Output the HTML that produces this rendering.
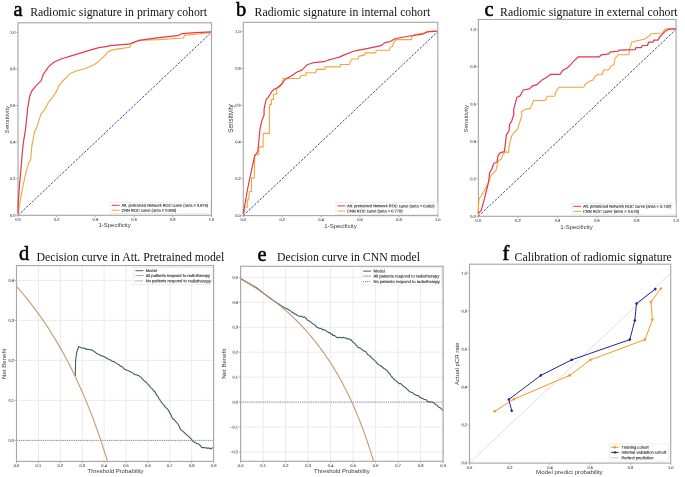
<!DOCTYPE html>
<html><head><meta charset="utf-8"><style>
html,body{margin:0;padding:0;background:#fff;width:685px;height:477px;overflow:hidden}
svg{display:block;will-change:transform}
</style></head><body>
<svg width="685" height="477" viewBox="0 0 685 477">
<rect width="685" height="477" fill="#fff"/>
<text x="13.5" y="15.7" font-family="Liberation Serif" font-size="20.4" fill="#000" text-anchor="start" font-weight="normal" stroke="#000" stroke-width="0.55">a</text>
<text x="30.2" y="16.3" font-family="Liberation Serif" font-size="11.75" fill="#111" text-anchor="start" font-weight="normal" >Radiomic signature in primary cohort</text>
<line x1="18" y1="215.3" x2="18" y2="217.1" stroke="#777" stroke-width="0.6"/>
<line x1="16.2" y1="215.3" x2="18" y2="215.3" stroke="#777" stroke-width="0.6"/>
<text x="18" y="220.8" font-family="Liberation Sans" font-size="4.0" fill="#555555" text-anchor="middle" font-weight="normal"  transform="rotate(0.1 18 220.8)" stroke="#555555" stroke-width="0.12">0.0</text>
<text x="15.5" y="216.7" font-family="Liberation Sans" font-size="4.0" fill="#555555" text-anchor="end" font-weight="normal"  transform="rotate(0.1 15.5 216.7)" stroke="#555555" stroke-width="0.12">0.0</text>
<line x1="56.7" y1="215.3" x2="56.7" y2="217.1" stroke="#777" stroke-width="0.6"/>
<line x1="16.2" y1="178.7" x2="18" y2="178.7" stroke="#777" stroke-width="0.6"/>
<text x="56.7" y="220.8" font-family="Liberation Sans" font-size="4.0" fill="#555555" text-anchor="middle" font-weight="normal"  transform="rotate(0.1 56.7 220.8)" stroke="#555555" stroke-width="0.12">0.2</text>
<text x="15.5" y="180.1" font-family="Liberation Sans" font-size="4.0" fill="#555555" text-anchor="end" font-weight="normal"  transform="rotate(0.1 15.5 180.1)" stroke="#555555" stroke-width="0.12">0.2</text>
<line x1="95.4" y1="215.3" x2="95.4" y2="217.1" stroke="#777" stroke-width="0.6"/>
<line x1="16.2" y1="142.1" x2="18" y2="142.1" stroke="#777" stroke-width="0.6"/>
<text x="95.4" y="220.8" font-family="Liberation Sans" font-size="4.0" fill="#555555" text-anchor="middle" font-weight="normal"  transform="rotate(0.1 95.4 220.8)" stroke="#555555" stroke-width="0.12">0.4</text>
<text x="15.5" y="143.5" font-family="Liberation Sans" font-size="4.0" fill="#555555" text-anchor="end" font-weight="normal"  transform="rotate(0.1 15.5 143.5)" stroke="#555555" stroke-width="0.12">0.4</text>
<line x1="134.1" y1="215.3" x2="134.1" y2="217.1" stroke="#777" stroke-width="0.6"/>
<line x1="16.2" y1="105.5" x2="18" y2="105.5" stroke="#777" stroke-width="0.6"/>
<text x="134.1" y="220.8" font-family="Liberation Sans" font-size="4.0" fill="#555555" text-anchor="middle" font-weight="normal"  transform="rotate(0.1 134.1 220.8)" stroke="#555555" stroke-width="0.12">0.6</text>
<text x="15.5" y="106.8" font-family="Liberation Sans" font-size="4.0" fill="#555555" text-anchor="end" font-weight="normal"  transform="rotate(0.1 15.5 106.8)" stroke="#555555" stroke-width="0.12">0.6</text>
<line x1="172.8" y1="215.3" x2="172.8" y2="217.1" stroke="#777" stroke-width="0.6"/>
<line x1="16.2" y1="68.9" x2="18" y2="68.9" stroke="#777" stroke-width="0.6"/>
<text x="172.8" y="220.8" font-family="Liberation Sans" font-size="4.0" fill="#555555" text-anchor="middle" font-weight="normal"  transform="rotate(0.1 172.8 220.8)" stroke="#555555" stroke-width="0.12">0.8</text>
<text x="15.5" y="70.2" font-family="Liberation Sans" font-size="4.0" fill="#555555" text-anchor="end" font-weight="normal"  transform="rotate(0.1 15.5 70.2)" stroke="#555555" stroke-width="0.12">0.8</text>
<line x1="211.5" y1="215.3" x2="211.5" y2="217.1" stroke="#777" stroke-width="0.6"/>
<line x1="16.2" y1="32.3" x2="18" y2="32.3" stroke="#777" stroke-width="0.6"/>
<text x="211.5" y="220.8" font-family="Liberation Sans" font-size="4.0" fill="#555555" text-anchor="middle" font-weight="normal"  transform="rotate(0.1 211.5 220.8)" stroke="#555555" stroke-width="0.12">1.0</text>
<text x="15.5" y="33.7" font-family="Liberation Sans" font-size="4.0" fill="#555555" text-anchor="end" font-weight="normal"  transform="rotate(0.1 15.5 33.7)" stroke="#555555" stroke-width="0.12">1.0</text>
<text x="114.6" y="226.7" font-family="Liberation Sans" font-size="6.0" fill="#3a3a3a" text-anchor="middle" font-weight="normal" >1-Specificity</text>
<text x="8.6" y="119.6" font-family="Liberation Sans" font-size="6.15" fill="#3a3a3a" text-anchor="middle" font-weight="normal" transform="rotate(-90 8.6 119.6)">Sensitivity</text>
<line x1="18" y1="215.3" x2="211.5" y2="32.3" stroke="#42429e" stroke-width="1.0" stroke-dasharray="2.4 1.4"/>
<rect x="18" y="22.8" width="193.5" height="192.5" fill="none" stroke="#a8a8a8" stroke-width="1.15"/>
<polyline points="18.1,213.5 19.2,207.2 21.3,194.7 23.4,184.2 25.9,172.7 28.6,163.2 30.7,160 31.8,146.4 33,140 34.4,132.3 36.5,128.1 39.3,119.7 40.7,114.5 44.9,109.2 48.1,102.9 52.3,97.7 56.5,91.4 58.6,86.2 61.7,82 64.9,78.8 70.1,73.6 76.4,71 83.7,69 89,66.9 94.2,64.8 100.5,59.9 105.8,54.7 107.9,51.5 115,49.4 129.9,47.2 130.7,44.2 139.9,40.3 159,39.6 183.6,38 184.3,35.4 195.8,34.2 211.2,32.4" fill="none" stroke="#f2a53c" stroke-width="1.1" stroke-linejoin="round"/>
<polyline points="18.1,213.5 18.1,205.1 19.2,188.4 20.9,169.5 22.3,152.7 23.4,142.3 25.5,129.7 27.6,108.9 29.7,96.3 31.8,91 36,85.8 41.2,80.6 43.3,74.3 48.5,66.9 53.8,62.3 61.1,59 69.5,56.4 77.9,53.9 88.4,50.6 98.9,47.6 107.2,46.4 110,45.7 128.4,44.2 139.1,40.3 159,37.6 177.4,35.7 182,33.7 195.8,32.7 211.2,31.9" fill="none" stroke="#e2394b" stroke-width="1.2" stroke-linejoin="round"/>
<rect x="110.2" y="202.2" width="100.3" height="11.1" fill="#fff" fill-opacity="0.85" stroke="#e0e0e0" stroke-width="0.5"/>
<line x1="111.7" y1="205.3" x2="119.7" y2="205.3" stroke="#e2394b" stroke-width="1"/>
<line x1="111.7" y1="210.3" x2="119.7" y2="210.3" stroke="#f2a53c" stroke-width="1"/>
<text x="121.4" y="206.7" font-family="Liberation Sans" font-size="3.95" fill="#2e2e2e" text-anchor="start" font-weight="normal"  transform="rotate(0.1 121.4 206.7)" stroke="#2e2e2e" stroke-width="0.12">Att. pretrained Network ROC curve (area = 0.876)</text>
<text x="121.4" y="211.7" font-family="Liberation Sans" font-size="3.95" fill="#2e2e2e" text-anchor="start" font-weight="normal"  transform="rotate(0.1 121.4 211.7)" stroke="#2e2e2e" stroke-width="0.12">CNN ROC curve (area = 0.805)</text>
<text x="236" y="15.7" font-family="Liberation Serif" font-size="20.4" fill="#000" text-anchor="start" font-weight="normal" stroke="#000" stroke-width="0.55">b</text>
<text x="254.6" y="16.3" font-family="Liberation Serif" font-size="11.75" fill="#111" text-anchor="start" font-weight="normal" >Radiomic signature in internal cohort</text>
<line x1="243.3" y1="215.6" x2="243.3" y2="217.4" stroke="#777" stroke-width="0.6"/>
<line x1="241.5" y1="215.6" x2="243.3" y2="215.6" stroke="#777" stroke-width="0.6"/>
<text x="243.3" y="221.1" font-family="Liberation Sans" font-size="4.0" fill="#555555" text-anchor="middle" font-weight="normal"  transform="rotate(0.1 243.3 221.1)" stroke="#555555" stroke-width="0.12">0.0</text>
<text x="240.8" y="216.9" font-family="Liberation Sans" font-size="4.0" fill="#555555" text-anchor="end" font-weight="normal"  transform="rotate(0.1 240.8 216.9)" stroke="#555555" stroke-width="0.12">0.0</text>
<line x1="282.2" y1="215.6" x2="282.2" y2="217.4" stroke="#777" stroke-width="0.6"/>
<line x1="241.5" y1="178.8" x2="243.3" y2="178.8" stroke="#777" stroke-width="0.6"/>
<text x="282.2" y="221.1" font-family="Liberation Sans" font-size="4.0" fill="#555555" text-anchor="middle" font-weight="normal"  transform="rotate(0.1 282.2 221.1)" stroke="#555555" stroke-width="0.12">0.2</text>
<text x="240.8" y="180.1" font-family="Liberation Sans" font-size="4.0" fill="#555555" text-anchor="end" font-weight="normal"  transform="rotate(0.1 240.8 180.1)" stroke="#555555" stroke-width="0.12">0.2</text>
<line x1="321.1" y1="215.6" x2="321.1" y2="217.4" stroke="#777" stroke-width="0.6"/>
<line x1="241.5" y1="142" x2="243.3" y2="142" stroke="#777" stroke-width="0.6"/>
<text x="321.1" y="221.1" font-family="Liberation Sans" font-size="4.0" fill="#555555" text-anchor="middle" font-weight="normal"  transform="rotate(0.1 321.1 221.1)" stroke="#555555" stroke-width="0.12">0.4</text>
<text x="240.8" y="143.3" font-family="Liberation Sans" font-size="4.0" fill="#555555" text-anchor="end" font-weight="normal"  transform="rotate(0.1 240.8 143.3)" stroke="#555555" stroke-width="0.12">0.4</text>
<line x1="360" y1="215.6" x2="360" y2="217.4" stroke="#777" stroke-width="0.6"/>
<line x1="241.5" y1="105.2" x2="243.3" y2="105.2" stroke="#777" stroke-width="0.6"/>
<text x="360" y="221.1" font-family="Liberation Sans" font-size="4.0" fill="#555555" text-anchor="middle" font-weight="normal"  transform="rotate(0.1 360 221.1)" stroke="#555555" stroke-width="0.12">0.6</text>
<text x="240.8" y="106.5" font-family="Liberation Sans" font-size="4.0" fill="#555555" text-anchor="end" font-weight="normal"  transform="rotate(0.1 240.8 106.5)" stroke="#555555" stroke-width="0.12">0.6</text>
<line x1="398.9" y1="215.6" x2="398.9" y2="217.4" stroke="#777" stroke-width="0.6"/>
<line x1="241.5" y1="68.4" x2="243.3" y2="68.4" stroke="#777" stroke-width="0.6"/>
<text x="398.9" y="221.1" font-family="Liberation Sans" font-size="4.0" fill="#555555" text-anchor="middle" font-weight="normal"  transform="rotate(0.1 398.9 221.1)" stroke="#555555" stroke-width="0.12">0.8</text>
<text x="240.8" y="69.7" font-family="Liberation Sans" font-size="4.0" fill="#555555" text-anchor="end" font-weight="normal"  transform="rotate(0.1 240.8 69.7)" stroke="#555555" stroke-width="0.12">0.8</text>
<line x1="437.8" y1="215.6" x2="437.8" y2="217.4" stroke="#777" stroke-width="0.6"/>
<line x1="241.5" y1="31.6" x2="243.3" y2="31.6" stroke="#777" stroke-width="0.6"/>
<text x="437.8" y="221.1" font-family="Liberation Sans" font-size="4.0" fill="#555555" text-anchor="middle" font-weight="normal"  transform="rotate(0.1 437.8 221.1)" stroke="#555555" stroke-width="0.12">1.0</text>
<text x="240.8" y="32.9" font-family="Liberation Sans" font-size="4.0" fill="#555555" text-anchor="end" font-weight="normal"  transform="rotate(0.1 240.8 32.9)" stroke="#555555" stroke-width="0.12">1.0</text>
<text x="340.5" y="227.6" font-family="Liberation Sans" font-size="6.0" fill="#3a3a3a" text-anchor="middle" font-weight="normal" >1-Specificity</text>
<text x="233.2" y="118.6" font-family="Liberation Sans" font-size="6.3" fill="#3a3a3a" text-anchor="middle" font-weight="normal" transform="rotate(-90 233.2 118.6)">Sensitivity</text>
<line x1="243.3" y1="215.6" x2="437.8" y2="31.6" stroke="#42429e" stroke-width="1.0" stroke-dasharray="2.4 1.4"/>
<rect x="243.3" y="22.3" width="194.5" height="193.3" fill="none" stroke="#a8a8a8" stroke-width="1.15"/>
<polyline points="244.2,213.5 244.6,207.2 247.3,207.2 247.3,199.9 248.8,199.9 249.4,191.5 251.5,191.5 251.5,177.9 254.3,177.9 254.7,154.8 258.9,154.8 258.9,146.9 263.1,146.9 263.1,133.4 269.4,133.4 269.4,104.7 271.4,104.7 271.4,99.4 273.5,99.4 273.5,94.2 276.7,94.2 276.7,88.9 279.8,86.8 283,82.7 283,78.5 299.7,78.5 300.8,75.3 306,75.3 306,72.8 315.5,72.8 316.5,69.4 324.9,69.4 324.9,66.9 340.4,66.9 340.4,64.5 349.6,64.5 350.3,61.5 351.9,59 358,59 358.8,56.4 364.9,54.9 364.9,52.9 375.6,52.9 376.4,50.3 389.4,50.3 390.2,47.2 392.5,46.5 393.2,43.1 396.3,39.6 411.6,39.6 411.6,37 415.5,34.2 423.9,33.4 427,31.4 436.9,31.1" fill="none" stroke="#f2a53c" stroke-width="1.1" stroke-linejoin="round"/>
<polyline points="243.1,213.5 245.2,203 247.3,190.5 249.4,180 252.6,165.3 254.7,155.9 257.8,151.7 259.9,129.7 262,120.2 264.1,115 264.1,108.9 266.2,99.4 268.3,97.3 271.4,92.1 273.5,89.6 277.7,87.5 281.9,83.7 285.1,79.5 292.4,75.3 296.6,72.2 301.8,70.1 307.1,64.8 313.4,62.7 323.9,61.7 328,60.2 334.3,58.5 340,56.9 344.2,54.9 354.9,50.8 365.7,48.8 381,45.7 384.8,42.6 390.2,41.6 395.5,38.5 410.1,36 422.4,34.2 427.7,31.9 436.9,31.1" fill="none" stroke="#e2394b" stroke-width="1.2" stroke-linejoin="round"/>
<rect x="335.9" y="202.6" width="101.5" height="11.7" fill="#fff" fill-opacity="0.85" stroke="#e0e0e0" stroke-width="0.5"/>
<line x1="337.4" y1="205.9" x2="345.4" y2="205.9" stroke="#e2394b" stroke-width="1"/>
<line x1="337.4" y1="211.1" x2="345.4" y2="211.1" stroke="#f2a53c" stroke-width="1"/>
<text x="347.1" y="207.3" font-family="Liberation Sans" font-size="3.98" fill="#2e2e2e" text-anchor="start" font-weight="normal"  transform="rotate(0.1 347.1 207.3)" stroke="#2e2e2e" stroke-width="0.12">Att. pretrained Network ROC curve (area = 0.862)</text>
<text x="347.1" y="212.5" font-family="Liberation Sans" font-size="3.98" fill="#2e2e2e" text-anchor="start" font-weight="normal"  transform="rotate(0.1 347.1 212.5)" stroke="#2e2e2e" stroke-width="0.12">CNN ROC curve (area = 0.770)</text>
<text x="484.6" y="15.7" font-family="Liberation Serif" font-size="20.4" fill="#000" text-anchor="start" font-weight="normal" stroke="#000" stroke-width="0.55">c</text>
<text x="500.1" y="16.3" font-family="Liberation Serif" font-size="11.75" fill="#111" text-anchor="start" font-weight="normal" >Radiomic signature in external cohort</text>
<line x1="478.4" y1="216.3" x2="478.4" y2="218.1" stroke="#777" stroke-width="0.6"/>
<line x1="476.6" y1="216.3" x2="478.4" y2="216.3" stroke="#777" stroke-width="0.6"/>
<text x="478.4" y="221.8" font-family="Liberation Sans" font-size="4.0" fill="#555555" text-anchor="middle" font-weight="normal"  transform="rotate(0.1 478.4 221.8)" stroke="#555555" stroke-width="0.12">0.0</text>
<text x="475.9" y="217.7" font-family="Liberation Sans" font-size="4.0" fill="#555555" text-anchor="end" font-weight="normal"  transform="rotate(0.1 475.9 217.7)" stroke="#555555" stroke-width="0.12">0.0</text>
<line x1="517.9" y1="216.3" x2="517.9" y2="218.1" stroke="#777" stroke-width="0.6"/>
<line x1="476.6" y1="178.9" x2="478.4" y2="178.9" stroke="#777" stroke-width="0.6"/>
<text x="517.9" y="221.8" font-family="Liberation Sans" font-size="4.0" fill="#555555" text-anchor="middle" font-weight="normal"  transform="rotate(0.1 517.9 221.8)" stroke="#555555" stroke-width="0.12">0.2</text>
<text x="475.9" y="180.2" font-family="Liberation Sans" font-size="4.0" fill="#555555" text-anchor="end" font-weight="normal"  transform="rotate(0.1 475.9 180.2)" stroke="#555555" stroke-width="0.12">0.2</text>
<line x1="557.5" y1="216.3" x2="557.5" y2="218.1" stroke="#777" stroke-width="0.6"/>
<line x1="476.6" y1="141.5" x2="478.4" y2="141.5" stroke="#777" stroke-width="0.6"/>
<text x="557.5" y="221.8" font-family="Liberation Sans" font-size="4.0" fill="#555555" text-anchor="middle" font-weight="normal"  transform="rotate(0.1 557.5 221.8)" stroke="#555555" stroke-width="0.12">0.4</text>
<text x="475.9" y="142.8" font-family="Liberation Sans" font-size="4.0" fill="#555555" text-anchor="end" font-weight="normal"  transform="rotate(0.1 475.9 142.8)" stroke="#555555" stroke-width="0.12">0.4</text>
<line x1="597" y1="216.3" x2="597" y2="218.1" stroke="#777" stroke-width="0.6"/>
<line x1="476.6" y1="104.1" x2="478.4" y2="104.1" stroke="#777" stroke-width="0.6"/>
<text x="597" y="221.8" font-family="Liberation Sans" font-size="4.0" fill="#555555" text-anchor="middle" font-weight="normal"  transform="rotate(0.1 597 221.8)" stroke="#555555" stroke-width="0.12">0.6</text>
<text x="475.9" y="105.4" font-family="Liberation Sans" font-size="4.0" fill="#555555" text-anchor="end" font-weight="normal"  transform="rotate(0.1 475.9 105.4)" stroke="#555555" stroke-width="0.12">0.6</text>
<line x1="636.6" y1="216.3" x2="636.6" y2="218.1" stroke="#777" stroke-width="0.6"/>
<line x1="476.6" y1="66.7" x2="478.4" y2="66.7" stroke="#777" stroke-width="0.6"/>
<text x="636.6" y="221.8" font-family="Liberation Sans" font-size="4.0" fill="#555555" text-anchor="middle" font-weight="normal"  transform="rotate(0.1 636.6 221.8)" stroke="#555555" stroke-width="0.12">0.8</text>
<text x="475.9" y="68.1" font-family="Liberation Sans" font-size="4.0" fill="#555555" text-anchor="end" font-weight="normal"  transform="rotate(0.1 475.9 68.1)" stroke="#555555" stroke-width="0.12">0.8</text>
<line x1="676.1" y1="216.3" x2="676.1" y2="218.1" stroke="#777" stroke-width="0.6"/>
<line x1="476.6" y1="29.3" x2="478.4" y2="29.3" stroke="#777" stroke-width="0.6"/>
<text x="676.1" y="221.8" font-family="Liberation Sans" font-size="4.0" fill="#555555" text-anchor="middle" font-weight="normal"  transform="rotate(0.1 676.1 221.8)" stroke="#555555" stroke-width="0.12">1.0</text>
<text x="475.9" y="30.7" font-family="Liberation Sans" font-size="4.0" fill="#555555" text-anchor="end" font-weight="normal"  transform="rotate(0.1 475.9 30.7)" stroke="#555555" stroke-width="0.12">1.0</text>
<text x="576.5" y="229" font-family="Liberation Sans" font-size="6.0" fill="#3a3a3a" text-anchor="middle" font-weight="normal" >1-Specificity</text>
<text x="467.9" y="118.7" font-family="Liberation Sans" font-size="6.15" fill="#3a3a3a" text-anchor="middle" font-weight="normal" transform="rotate(-90 467.9 118.7)">Sensitivity</text>
<line x1="478.4" y1="216.3" x2="676.1" y2="29.3" stroke="#42429e" stroke-width="1.0" stroke-dasharray="2.4 1.4"/>
<rect x="478.4" y="19.5" width="197.7" height="196.8" fill="none" stroke="#a8a8a8" stroke-width="1.15"/>
<polyline points="478.1,213.5 478.1,211.5 479.1,198.9 481.2,195.8 484.4,190.5 486.5,186.3 488.6,182.1 490.7,175.8 492.8,173.7 495.9,170.6 498,161.2 501.2,159.1 503.2,153.8 506.4,151.7 508.5,152.8 509.5,144.4 511.6,136 514.8,131.8 517.9,128.6 520,121.3 522.1,115 521.1,112 524.3,109.9 526.4,108.9 529.9,108.9 531.6,105.7 533.7,100.5 545.2,100.5 547.3,96.3 554.7,96.3 555.7,92.1 558.9,87.3 583.6,87.2 585.7,83.7 588.9,81.6 593,79.9 595.1,76.3 598.3,74.2 602.5,74.2 603.5,70 608.8,70 610.9,65.9 614,64.8 615,58.5 618.2,54.8 628.7,54.8 629.7,49.1 631.8,42.2 637,40.7 644.4,39.2 648.6,36.5 650.7,33.8 662.2,33 665.3,28.8 675.8,28.8" fill="none" stroke="#f2a53c" stroke-width="1.1" stroke-linejoin="round"/>
<polyline points="478.1,213.6 481.2,210.4 484.4,198.9 486.5,190.5 488.6,182.1 489.6,172.7 491.7,169.5 493.8,163.2 497,162.2 498,155.9 500.1,152.8 504.3,151.7 505.3,144.4 506.4,134.9 509.1,130.7 509.5,124.4 511.6,121.3 513.7,115 513.8,108.9 516.9,97.3 520.1,95.9 523.2,90 529.5,88.9 532.7,85.8 536.8,84.7 542.1,79.9 546.3,77.4 549.4,75.3 550.5,74.3 559.9,74.3 563,70.1 567.2,68 570.4,64.8 574.2,60.6 578.4,56.8 599.3,56.8 601.4,54.8 608.8,53.9 609.8,52.2 618.2,51.2 619.2,50.1 635,49.7 636,47.6 641.2,47.6 642.3,45.5 647.5,45.5 648.6,42.2 652.8,42.2 653.8,40.1 658,40.1 660.1,36.5 662.2,34.4 665.3,31.3 668.5,29.2 675.8,28.8" fill="none" stroke="#e2394b" stroke-width="1.2" stroke-linejoin="round"/>
<rect x="571.7" y="203.2" width="104.2" height="11.2" fill="#fff" fill-opacity="0.85" stroke="#e0e0e0" stroke-width="0.5"/>
<line x1="573.2" y1="206.3" x2="581.2" y2="206.3" stroke="#e2394b" stroke-width="1"/>
<line x1="573.2" y1="211.4" x2="581.2" y2="211.4" stroke="#f2a53c" stroke-width="1"/>
<text x="582.9" y="207.7" font-family="Liberation Sans" font-size="4.03" fill="#2e2e2e" text-anchor="start" font-weight="normal"  transform="rotate(0.1 582.9 207.7)" stroke="#2e2e2e" stroke-width="0.12">Att. pretrained Network ROC curve (area = 0.732)</text>
<text x="582.9" y="212.8" font-family="Liberation Sans" font-size="4.03" fill="#2e2e2e" text-anchor="start" font-weight="normal"  transform="rotate(0.1 582.9 212.8)" stroke="#2e2e2e" stroke-width="0.12">CNN ROC curve (area = 0.678)</text>
<text x="19" y="260" font-family="Liberation Serif" font-size="20.4" fill="#000" text-anchor="start" font-weight="normal" stroke="#000" stroke-width="0.55">d</text>
<text x="36.5" y="260.8" font-family="Liberation Serif" font-size="11.83" fill="#111" text-anchor="start" font-weight="normal" >Decision curve in Att. Pretrained model</text>
<line x1="16.5" y1="461.4" x2="16.5" y2="463.2" stroke="#777" stroke-width="0.6"/>
<text x="16.5" y="467.1" font-family="Liberation Sans" font-size="4.0" fill="#555555" text-anchor="middle" font-weight="normal"  transform="rotate(0.1 16.5 467.1)" stroke="#555555" stroke-width="0.12">0.0</text>
<line x1="38.4" y1="265.6" x2="38.4" y2="461.4" stroke="#e2e2e2" stroke-width="0.7"/>
<line x1="38.4" y1="461.4" x2="38.4" y2="463.2" stroke="#777" stroke-width="0.6"/>
<text x="38.4" y="467.1" font-family="Liberation Sans" font-size="4.0" fill="#555555" text-anchor="middle" font-weight="normal"  transform="rotate(0.1 38.4 467.1)" stroke="#555555" stroke-width="0.12">0.1</text>
<line x1="60.3" y1="265.6" x2="60.3" y2="461.4" stroke="#e2e2e2" stroke-width="0.7"/>
<line x1="60.3" y1="461.4" x2="60.3" y2="463.2" stroke="#777" stroke-width="0.6"/>
<text x="60.3" y="467.1" font-family="Liberation Sans" font-size="4.0" fill="#555555" text-anchor="middle" font-weight="normal"  transform="rotate(0.1 60.3 467.1)" stroke="#555555" stroke-width="0.12">0.2</text>
<line x1="82.2" y1="265.6" x2="82.2" y2="461.4" stroke="#e2e2e2" stroke-width="0.7"/>
<line x1="82.2" y1="461.4" x2="82.2" y2="463.2" stroke="#777" stroke-width="0.6"/>
<text x="82.2" y="467.1" font-family="Liberation Sans" font-size="4.0" fill="#555555" text-anchor="middle" font-weight="normal"  transform="rotate(0.1 82.2 467.1)" stroke="#555555" stroke-width="0.12">0.3</text>
<line x1="104.1" y1="265.6" x2="104.1" y2="461.4" stroke="#e2e2e2" stroke-width="0.7"/>
<line x1="104.1" y1="461.4" x2="104.1" y2="463.2" stroke="#777" stroke-width="0.6"/>
<text x="104.1" y="467.1" font-family="Liberation Sans" font-size="4.0" fill="#555555" text-anchor="middle" font-weight="normal"  transform="rotate(0.1 104.1 467.1)" stroke="#555555" stroke-width="0.12">0.4</text>
<line x1="126" y1="265.6" x2="126" y2="461.4" stroke="#e2e2e2" stroke-width="0.7"/>
<line x1="126" y1="461.4" x2="126" y2="463.2" stroke="#777" stroke-width="0.6"/>
<text x="126" y="467.1" font-family="Liberation Sans" font-size="4.0" fill="#555555" text-anchor="middle" font-weight="normal"  transform="rotate(0.1 126 467.1)" stroke="#555555" stroke-width="0.12">0.5</text>
<line x1="147.9" y1="265.6" x2="147.9" y2="461.4" stroke="#e2e2e2" stroke-width="0.7"/>
<line x1="147.9" y1="461.4" x2="147.9" y2="463.2" stroke="#777" stroke-width="0.6"/>
<text x="147.9" y="467.1" font-family="Liberation Sans" font-size="4.0" fill="#555555" text-anchor="middle" font-weight="normal"  transform="rotate(0.1 147.9 467.1)" stroke="#555555" stroke-width="0.12">0.6</text>
<line x1="169.8" y1="265.6" x2="169.8" y2="461.4" stroke="#e2e2e2" stroke-width="0.7"/>
<line x1="169.8" y1="461.4" x2="169.8" y2="463.2" stroke="#777" stroke-width="0.6"/>
<text x="169.8" y="467.1" font-family="Liberation Sans" font-size="4.0" fill="#555555" text-anchor="middle" font-weight="normal"  transform="rotate(0.1 169.8 467.1)" stroke="#555555" stroke-width="0.12">0.7</text>
<line x1="191.7" y1="265.6" x2="191.7" y2="461.4" stroke="#e2e2e2" stroke-width="0.7"/>
<line x1="191.7" y1="461.4" x2="191.7" y2="463.2" stroke="#777" stroke-width="0.6"/>
<text x="191.7" y="467.1" font-family="Liberation Sans" font-size="4.0" fill="#555555" text-anchor="middle" font-weight="normal"  transform="rotate(0.1 191.7 467.1)" stroke="#555555" stroke-width="0.12">0.8</text>
<line x1="213.6" y1="265.6" x2="213.6" y2="461.4" stroke="#e2e2e2" stroke-width="0.7"/>
<line x1="213.6" y1="461.4" x2="213.6" y2="463.2" stroke="#777" stroke-width="0.6"/>
<text x="213.6" y="467.1" font-family="Liberation Sans" font-size="4.0" fill="#555555" text-anchor="middle" font-weight="normal"  transform="rotate(0.1 213.6 467.1)" stroke="#555555" stroke-width="0.12">0.9</text>
<line x1="16.5" y1="440.4" x2="213.6" y2="440.4" stroke="#e2e2e2" stroke-width="0.7"/>
<line x1="14.7" y1="440.4" x2="16.5" y2="440.4" stroke="#777" stroke-width="0.6"/>
<text x="14" y="441.8" font-family="Liberation Sans" font-size="4.0" fill="#555555" text-anchor="end" font-weight="normal"  transform="rotate(0.1 14 441.8)" stroke="#555555" stroke-width="0.12">0.0</text>
<line x1="16.5" y1="400.4" x2="213.6" y2="400.4" stroke="#e2e2e2" stroke-width="0.7"/>
<line x1="14.7" y1="400.4" x2="16.5" y2="400.4" stroke="#777" stroke-width="0.6"/>
<text x="14" y="401.8" font-family="Liberation Sans" font-size="4.0" fill="#555555" text-anchor="end" font-weight="normal"  transform="rotate(0.1 14 401.8)" stroke="#555555" stroke-width="0.12">0.1</text>
<line x1="16.5" y1="360.4" x2="213.6" y2="360.4" stroke="#e2e2e2" stroke-width="0.7"/>
<line x1="14.7" y1="360.4" x2="16.5" y2="360.4" stroke="#777" stroke-width="0.6"/>
<text x="14" y="361.8" font-family="Liberation Sans" font-size="4.0" fill="#555555" text-anchor="end" font-weight="normal"  transform="rotate(0.1 14 361.8)" stroke="#555555" stroke-width="0.12">0.2</text>
<line x1="16.5" y1="320.4" x2="213.6" y2="320.4" stroke="#e2e2e2" stroke-width="0.7"/>
<line x1="14.7" y1="320.4" x2="16.5" y2="320.4" stroke="#777" stroke-width="0.6"/>
<text x="14" y="321.8" font-family="Liberation Sans" font-size="4.0" fill="#555555" text-anchor="end" font-weight="normal"  transform="rotate(0.1 14 321.8)" stroke="#555555" stroke-width="0.12">0.3</text>
<line x1="16.5" y1="280.4" x2="213.6" y2="280.4" stroke="#e2e2e2" stroke-width="0.7"/>
<line x1="14.7" y1="280.4" x2="16.5" y2="280.4" stroke="#777" stroke-width="0.6"/>
<text x="14" y="281.8" font-family="Liberation Sans" font-size="4.0" fill="#555555" text-anchor="end" font-weight="normal"  transform="rotate(0.1 14 281.8)" stroke="#555555" stroke-width="0.12">0.4</text>
<line x1="16.5" y1="440.4" x2="213.6" y2="440.4" stroke="#6464a8" stroke-width="0.8" stroke-dasharray="1.1 1.1"/>
<polyline points="75.3,376.1 75.3,374.9 75.3,373.6 75.4,372.4 75.4,371.1 75.4,369.9 75.4,368.7 75.5,367.4 75.5,366.2 75.5,365 75.5,363.7 75.6,362.5 75.6,361.2 75.6,360.1 75.8,359 76,358 76.2,356.6 76.3,355 76.5,353.9 76.7,352.7 77.1,351.2 77.4,350.4 77.8,349.3 78.1,348.3 78.5,346.5 79.8,347.1 81.1,347.7 82.4,348.2 83.7,348.1 85,348.3 86.3,349.5 87.8,349 89.2,349.7 90.7,349.6 92.2,350.2 93.3,350.9 94.4,351.7 95.5,352.3 96.6,353.5 97.7,354.1 98.8,354.2 99.9,355.3 101,355.6 102.1,355.7 103.2,356.5 104.4,356.6 105.6,357.6 106.8,358.2 108.1,358.9 109.3,359.7 110.5,359.9 111.6,360.9 112.7,361.4 113.8,361.5 114.9,362.4 116,362.8 117.1,363.9 118.2,364.3 119.3,364.8 120.3,366.1 121.3,366.2 122.2,366.9 123.2,367.8 124.2,369.1 125.2,369.5 126.3,370 127.5,370.5 128.6,370.8 129.8,371.6 130.9,372 132.1,372.7 133.2,373 134.4,374.3 135.5,374.7 136.6,374.8 137.7,375.5 138.8,375.5 139.9,376.8 140.8,377 141.7,378 142.6,379.3 143.6,380.1 144.5,381.1 145.4,381.4 146.3,382.8 147.2,383.1 148,384.9 148.9,385 149.7,386 150.6,387.7 151.4,388.4 152.3,388.7 153.1,389.9 154.1,391.2 155,391.7 155.7,393.5 156.4,394.1 157,395.6 157.7,396.4 158.4,397.2 159.1,398.9 159.8,399.3 160.4,401.1 161.1,401.7 161.8,402.7 162.7,403.7 163.5,404.8 164.3,405.6 165.2,407 166.1,407.9 166.9,408.4 167.8,409.3 168.6,410.7 169.2,411.7 169.8,413.2 170.4,413.7 170.9,414.8 171.5,416.3 172.1,417.9 172.7,418.5 173.7,419.5 174.6,420.1 175.6,421.3 176.5,422.6 177.5,423.2 178.2,424.5 178.9,425.8 179.5,427 180.2,428.6 180.9,430 181.8,430.5 182.7,431.1 183.7,432 184.6,432.8 185.5,433.7 186.4,434.7 187.2,435.1 188.1,435.9 188.9,436.5 189.8,437.7 190.7,438.6 191.5,439.2 192.3,440.5 193.2,441.6 194.3,442 195.4,442.7 196.5,443.2 197.6,443.7 198.7,444 199.7,444.9 200.7,446.1 201.7,447.4 202.7,447.6 204.1,447.6 205.4,447.8 206.8,448.1 208.2,448.1 209.6,448.1 210.9,449 211.8,448.2 212.8,447.6 213.7,446.6" fill="none" stroke="#3f5e5e" stroke-width="1.1" stroke-linejoin="round"/>
<polyline points="16.5,286.4 18.7,288.9 20.9,291.4 23.1,294 25.3,296.6 27.5,299.3 29.6,302.1 31.8,304.9 34,307.8 36.2,310.7 38.4,313.7 40.6,316.8 42.8,319.9 45,323.2 47.2,326.4 49.4,329.8 51.5,333.3 53.7,336.8 55.9,340.4 58.1,344.1 60.3,347.9 62.5,351.8 64.7,355.8 66.9,359.9 69.1,364.1 71.3,368.4 73.4,372.8 75.6,377.4 77.8,382.1 80,386.9 82.2,391.8 84.4,396.9 86.6,402.2 88.8,407.6 91,413.1 93.2,418.9 95.3,424.8 97.5,430.9 99.7,437.2 101.9,443.7 104.1,450.4 106.3,457.3 107.5,461.4" fill="none" stroke="#c49a70" stroke-width="1.1"/>
<rect x="16.5" y="265.6" width="197.1" height="195.8" fill="none" stroke="#a8a8a8" stroke-width="1.15"/>
<text x="115.5" y="473" font-family="Liberation Sans" font-size="5.95" fill="#3a3a3a" text-anchor="middle" font-weight="normal" >Threshold Probability</text>
<text x="5.7" y="363.9" font-family="Liberation Sans" font-size="6.1" fill="#3a3a3a" text-anchor="middle" font-weight="normal" transform="rotate(-90 5.7 363.9)">Net Benefit</text>
<rect x="133.9" y="267.5" width="78.1" height="16.8" fill="#fff" fill-opacity="0.85" stroke="#e0e0e0" stroke-width="0.5"/>
<line x1="135.4" y1="270.7" x2="143.4" y2="270.7" stroke="#3f5e5e" stroke-width="1" />
<text x="145.7" y="272.1" font-family="Liberation Sans" font-size="4.1" fill="#2e2e2e" text-anchor="start" font-weight="normal"  transform="rotate(0.1 145.7 272.1)" stroke="#2e2e2e" stroke-width="0.12">Model</text>
<line x1="135.4" y1="275.6" x2="143.4" y2="275.6" stroke="#c49a70" stroke-width="1" />
<text x="145.7" y="277" font-family="Liberation Sans" font-size="4.1" fill="#2e2e2e" text-anchor="start" font-weight="normal"  transform="rotate(0.1 145.7 277)" stroke="#2e2e2e" stroke-width="0.12">All patients respond to radiotherapy</text>
<line x1="135.4" y1="280.9" x2="143.4" y2="280.9" stroke="#6464a8" stroke-width="1" stroke-dasharray="1 1"/>
<text x="145.7" y="282.3" font-family="Liberation Sans" font-size="4.1" fill="#2e2e2e" text-anchor="start" font-weight="normal"  transform="rotate(0.1 145.7 282.3)" stroke="#2e2e2e" stroke-width="0.12">No patients respond to radiotherapy</text>
<text x="257.6" y="260.5" font-family="Liberation Serif" font-size="20.4" fill="#000" text-anchor="start" font-weight="normal" stroke="#000" stroke-width="0.55">e</text>
<text x="277" y="261" font-family="Liberation Serif" font-size="11.75" fill="#111" text-anchor="start" font-weight="normal" >Decision curve in CNN model</text>
<line x1="240.6" y1="461.3" x2="240.6" y2="463.1" stroke="#777" stroke-width="0.6"/>
<text x="240.6" y="467" font-family="Liberation Sans" font-size="4.0" fill="#555555" text-anchor="middle" font-weight="normal"  transform="rotate(0.1 240.6 467)" stroke="#555555" stroke-width="0.12">0.0</text>
<line x1="263.1" y1="266.3" x2="263.1" y2="461.3" stroke="#e2e2e2" stroke-width="0.7"/>
<line x1="263.1" y1="461.3" x2="263.1" y2="463.1" stroke="#777" stroke-width="0.6"/>
<text x="263.1" y="467" font-family="Liberation Sans" font-size="4.0" fill="#555555" text-anchor="middle" font-weight="normal"  transform="rotate(0.1 263.1 467)" stroke="#555555" stroke-width="0.12">0.1</text>
<line x1="285.6" y1="266.3" x2="285.6" y2="461.3" stroke="#e2e2e2" stroke-width="0.7"/>
<line x1="285.6" y1="461.3" x2="285.6" y2="463.1" stroke="#777" stroke-width="0.6"/>
<text x="285.6" y="467" font-family="Liberation Sans" font-size="4.0" fill="#555555" text-anchor="middle" font-weight="normal"  transform="rotate(0.1 285.6 467)" stroke="#555555" stroke-width="0.12">0.2</text>
<line x1="308.1" y1="266.3" x2="308.1" y2="461.3" stroke="#e2e2e2" stroke-width="0.7"/>
<line x1="308.1" y1="461.3" x2="308.1" y2="463.1" stroke="#777" stroke-width="0.6"/>
<text x="308.1" y="467" font-family="Liberation Sans" font-size="4.0" fill="#555555" text-anchor="middle" font-weight="normal"  transform="rotate(0.1 308.1 467)" stroke="#555555" stroke-width="0.12">0.3</text>
<line x1="330.6" y1="266.3" x2="330.6" y2="461.3" stroke="#e2e2e2" stroke-width="0.7"/>
<line x1="330.6" y1="461.3" x2="330.6" y2="463.1" stroke="#777" stroke-width="0.6"/>
<text x="330.6" y="467" font-family="Liberation Sans" font-size="4.0" fill="#555555" text-anchor="middle" font-weight="normal"  transform="rotate(0.1 330.6 467)" stroke="#555555" stroke-width="0.12">0.4</text>
<line x1="353.1" y1="266.3" x2="353.1" y2="461.3" stroke="#e2e2e2" stroke-width="0.7"/>
<line x1="353.1" y1="461.3" x2="353.1" y2="463.1" stroke="#777" stroke-width="0.6"/>
<text x="353.1" y="467" font-family="Liberation Sans" font-size="4.0" fill="#555555" text-anchor="middle" font-weight="normal"  transform="rotate(0.1 353.1 467)" stroke="#555555" stroke-width="0.12">0.5</text>
<line x1="375.6" y1="266.3" x2="375.6" y2="461.3" stroke="#e2e2e2" stroke-width="0.7"/>
<line x1="375.6" y1="461.3" x2="375.6" y2="463.1" stroke="#777" stroke-width="0.6"/>
<text x="375.6" y="467" font-family="Liberation Sans" font-size="4.0" fill="#555555" text-anchor="middle" font-weight="normal"  transform="rotate(0.1 375.6 467)" stroke="#555555" stroke-width="0.12">0.6</text>
<line x1="398.1" y1="266.3" x2="398.1" y2="461.3" stroke="#e2e2e2" stroke-width="0.7"/>
<line x1="398.1" y1="461.3" x2="398.1" y2="463.1" stroke="#777" stroke-width="0.6"/>
<text x="398.1" y="467" font-family="Liberation Sans" font-size="4.0" fill="#555555" text-anchor="middle" font-weight="normal"  transform="rotate(0.1 398.1 467)" stroke="#555555" stroke-width="0.12">0.7</text>
<line x1="420.6" y1="266.3" x2="420.6" y2="461.3" stroke="#e2e2e2" stroke-width="0.7"/>
<line x1="420.6" y1="461.3" x2="420.6" y2="463.1" stroke="#777" stroke-width="0.6"/>
<text x="420.6" y="467" font-family="Liberation Sans" font-size="4.0" fill="#555555" text-anchor="middle" font-weight="normal"  transform="rotate(0.1 420.6 467)" stroke="#555555" stroke-width="0.12">0.8</text>
<line x1="443.1" y1="266.3" x2="443.1" y2="461.3" stroke="#e2e2e2" stroke-width="0.7"/>
<line x1="443.1" y1="461.3" x2="443.1" y2="463.1" stroke="#777" stroke-width="0.6"/>
<text x="443.1" y="467" font-family="Liberation Sans" font-size="4.0" fill="#555555" text-anchor="middle" font-weight="normal"  transform="rotate(0.1 443.1 467)" stroke="#555555" stroke-width="0.12">0.9</text>
<line x1="240.6" y1="452" x2="443.1" y2="452" stroke="#e2e2e2" stroke-width="0.7"/>
<line x1="238.8" y1="452" x2="240.6" y2="452" stroke="#777" stroke-width="0.6"/>
<text x="238.1" y="453.3" font-family="Liberation Sans" font-size="4.0" fill="#555555" text-anchor="end" font-weight="normal"  transform="rotate(0.1 238.1 453.3)" stroke="#555555" stroke-width="0.12">−0.2</text>
<line x1="240.6" y1="427" x2="443.1" y2="427" stroke="#e2e2e2" stroke-width="0.7"/>
<line x1="238.8" y1="427" x2="240.6" y2="427" stroke="#777" stroke-width="0.6"/>
<text x="238.1" y="428.4" font-family="Liberation Sans" font-size="4.0" fill="#555555" text-anchor="end" font-weight="normal"  transform="rotate(0.1 238.1 428.4)" stroke="#555555" stroke-width="0.12">−0.1</text>
<line x1="240.6" y1="402.1" x2="443.1" y2="402.1" stroke="#e2e2e2" stroke-width="0.7"/>
<line x1="238.8" y1="402.1" x2="240.6" y2="402.1" stroke="#777" stroke-width="0.6"/>
<text x="238.1" y="403.5" font-family="Liberation Sans" font-size="4.0" fill="#555555" text-anchor="end" font-weight="normal"  transform="rotate(0.1 238.1 403.5)" stroke="#555555" stroke-width="0.12">0.0</text>
<line x1="240.6" y1="377.2" x2="443.1" y2="377.2" stroke="#e2e2e2" stroke-width="0.7"/>
<line x1="238.8" y1="377.2" x2="240.6" y2="377.2" stroke="#777" stroke-width="0.6"/>
<text x="238.1" y="378.5" font-family="Liberation Sans" font-size="4.0" fill="#555555" text-anchor="end" font-weight="normal"  transform="rotate(0.1 238.1 378.5)" stroke="#555555" stroke-width="0.12">0.1</text>
<line x1="240.6" y1="352.2" x2="443.1" y2="352.2" stroke="#e2e2e2" stroke-width="0.7"/>
<line x1="238.8" y1="352.2" x2="240.6" y2="352.2" stroke="#777" stroke-width="0.6"/>
<text x="238.1" y="353.6" font-family="Liberation Sans" font-size="4.0" fill="#555555" text-anchor="end" font-weight="normal"  transform="rotate(0.1 238.1 353.6)" stroke="#555555" stroke-width="0.12">0.2</text>
<line x1="240.6" y1="327.3" x2="443.1" y2="327.3" stroke="#e2e2e2" stroke-width="0.7"/>
<line x1="238.8" y1="327.3" x2="240.6" y2="327.3" stroke="#777" stroke-width="0.6"/>
<text x="238.1" y="328.6" font-family="Liberation Sans" font-size="4.0" fill="#555555" text-anchor="end" font-weight="normal"  transform="rotate(0.1 238.1 328.6)" stroke="#555555" stroke-width="0.12">0.3</text>
<line x1="240.6" y1="302.3" x2="443.1" y2="302.3" stroke="#e2e2e2" stroke-width="0.7"/>
<line x1="238.8" y1="302.3" x2="240.6" y2="302.3" stroke="#777" stroke-width="0.6"/>
<text x="238.1" y="303.7" font-family="Liberation Sans" font-size="4.0" fill="#555555" text-anchor="end" font-weight="normal"  transform="rotate(0.1 238.1 303.7)" stroke="#555555" stroke-width="0.12">0.4</text>
<line x1="240.6" y1="277.4" x2="443.1" y2="277.4" stroke="#e2e2e2" stroke-width="0.7"/>
<line x1="238.8" y1="277.4" x2="240.6" y2="277.4" stroke="#777" stroke-width="0.6"/>
<text x="238.1" y="278.8" font-family="Liberation Sans" font-size="4.0" fill="#555555" text-anchor="end" font-weight="normal"  transform="rotate(0.1 238.1 278.8)" stroke="#555555" stroke-width="0.12">0.5</text>
<line x1="240.6" y1="402.1" x2="443.1" y2="402.1" stroke="#6464a8" stroke-width="0.8" stroke-dasharray="1.1 1.1"/>
<polyline points="240.6,278.6 241.7,279.2 242.8,279.8 243.8,280.5 244.9,281.1 246,281.7 247.1,282.3 248.1,283 249.2,283.6 250.3,284.2 251.4,284.8 252.5,285.4 253.5,286.1 254.6,286.7 255.7,287.3 256.7,288 257.7,288.8 258.6,289.5 259.6,290.3 260.6,291 261.6,291.8 262.6,292.5 263.5,293.2 264.5,294 265.5,294.7 266.5,295.5 267.5,296.2 268.5,297 269.4,297.7 270.4,298.5 271.4,299.2 272.4,299.9 273.5,300.6 274.5,301.3 275.6,302 276.6,302.7 277.7,303.4 278.8,304 279.8,304.7 280.9,305.4 281.9,306.1 282.9,306.8 284,307.5 285.2,308 286.4,308.9 287.6,308.9 288.8,310 290,310.6 291,311.4 292,312.3 293,312.4 294,313.6 295,314.1 296,314.1 297,315.2 298,315.6 299.3,316.3 300.6,316.4 301.9,316.4 303.2,317.4 304.5,316.8 305.4,317.6 306.4,318.5 307.3,320 308.2,320.4 309.2,321 310.1,321.7 311.1,322.1 312,323.2 313.1,323.9 314.2,324.7 315.3,325.2 316.4,326.9 317.5,327.5 318.6,327.9 319.9,328.5 321.2,328.4 322.6,329.9 323.9,329.5 325.2,330.2 326.5,331.1 327.6,331.8 328.6,332.6 329.7,332.6 330.8,333.9 331.9,333.9 332.9,335.6 334,335.3 335.2,336 336.5,337.4 337.8,337.6 339,337.4 340.4,337.5 341.8,337.9 343.1,337.2 344.5,338 345.7,337.9 347,338.8 348.2,338.9 349.5,339 350.7,340.1 351.6,340.1 352.5,341.9 353.4,342.2 354.2,342.9 355.1,343.9 356,345.1 356.9,345.7 357.8,347.2 358.8,347.8 359.9,347.9 360.9,348.5 361.9,349.7 362.9,350.2 364,351.2 365,351.1 365.9,351.9 366.8,353.2 367.7,354.6 368.5,354.9 369.4,355.7 370.3,356.2 371.2,357.4 372.2,358.7 373.2,359.1 374.2,360.1 375.2,361.1 376.2,362 377.2,363.3 378.2,364.4 379.2,364.9 380.2,365.5 381.3,366.3 382.4,367.1 383.4,368 384.4,368.9 385.5,369.1 386.4,370.1 387.3,370.7 388.2,372.2 389,373.2 389.9,373.9 390.8,375.5 391.7,376.8 392.6,377.5 393.5,378.6 394.4,379.5 395.2,380.4 396.1,381 397,381.7 398.1,382.6 399.2,383.7 400.2,383.4 401.3,384.1 402.4,385.1 403.4,386.2 404.4,387 405.4,387.2 406.4,388.6 407.3,389.3 408.3,390.3 409.3,391.3 410.3,392 411.3,392.2 412.5,392.6 413.7,393.9 414.9,394.7 416,394.9 417.2,395.8 418.4,395.5 419.5,396.9 420.6,397.4 421.7,398.3 422.9,398.3 424,399.5 425.1,399.5 426.2,399.8 427.3,401.4 428.6,401.6 429.8,402.2 431.1,401.8 432.3,402.2 433.6,402.6 434.7,403.6 435.7,404.8 436.8,405 437.8,406.2 438.9,407.5 439.9,407.6 440.9,408.3 442,409.3 443,410.6" fill="none" stroke="#3f5e5e" stroke-width="1.1" stroke-linejoin="round"/>
<polyline points="240.6,278.9 242.8,280.2 245.1,281.5 247.3,282.8 249.6,284.2 251.8,285.5 254.1,287 256.4,288.4 258.6,289.9 260.9,291.4 263.1,292.9 265.3,294.5 267.6,296.1 269.8,297.8 272.1,299.4 274.4,301.2 276.6,302.9 278.9,304.7 281.1,306.6 283.4,308.5 285.6,310.4 287.9,312.4 290.1,314.5 292.4,316.6 294.6,318.7 296.9,321 299.1,323.2 301.4,325.6 303.6,328 305.9,330.4 308.1,333 310.4,335.6 312.6,338.3 314.9,341.1 317.1,343.9 319.4,346.8 321.6,349.9 323.9,353 326.1,356.2 328.4,359.6 330.6,363 332.9,366.6 335.1,370.3 337.4,374.1 339.6,378.1 341.9,382.1 344.1,386.4 346.4,390.8 348.6,395.4 350.9,400.1 353.1,405.1 355.4,410.2 357.6,415.6 359.9,421.2 362.1,427 364.4,433.1 366.6,439.5 368.9,446.2 371.1,453.2 373.4,460.5 373.6,461.3" fill="none" stroke="#c49a70" stroke-width="1.1"/>
<rect x="240.6" y="266.3" width="202.5" height="195" fill="none" stroke="#a8a8a8" stroke-width="1.15"/>
<text x="341.9" y="473" font-family="Liberation Sans" font-size="5.95" fill="#3a3a3a" text-anchor="middle" font-weight="normal" >Threshold Probability</text>
<text x="226.4" y="363.7" font-family="Liberation Sans" font-size="6.1" fill="#3a3a3a" text-anchor="middle" font-weight="normal" transform="rotate(-90 226.4 363.7)">Net Benefit</text>
<rect x="361.6" y="267.9" width="80.1" height="17.1" fill="#fff" fill-opacity="0.85" stroke="#e0e0e0" stroke-width="0.5"/>
<line x1="363.1" y1="271.1" x2="371.1" y2="271.1" stroke="#3f5e5e" stroke-width="1" />
<text x="373.4" y="272.5" font-family="Liberation Sans" font-size="4.2" fill="#2e2e2e" text-anchor="start" font-weight="normal"  transform="rotate(0.1 373.4 272.5)" stroke="#2e2e2e" stroke-width="0.12">Model</text>
<line x1="363.1" y1="276.1" x2="371.1" y2="276.1" stroke="#c49a70" stroke-width="1" />
<text x="373.4" y="277.5" font-family="Liberation Sans" font-size="4.2" fill="#2e2e2e" text-anchor="start" font-weight="normal"  transform="rotate(0.1 373.4 277.5)" stroke="#2e2e2e" stroke-width="0.12">All patients respond to radiotherapy</text>
<line x1="363.1" y1="281.6" x2="371.1" y2="281.6" stroke="#6464a8" stroke-width="1" stroke-dasharray="1 1"/>
<text x="373.4" y="283" font-family="Liberation Sans" font-size="4.2" fill="#2e2e2e" text-anchor="start" font-weight="normal"  transform="rotate(0.1 373.4 283)" stroke="#2e2e2e" stroke-width="0.12">No patients respond to radiotherapy</text>
<text x="502.6" y="259.8" font-family="Liberation Serif" font-size="20.4" fill="#000" text-anchor="start" font-weight="normal" stroke="#000" stroke-width="0.55">f</text>
<text x="514.5" y="260.7" font-family="Liberation Serif" font-size="11.84" fill="#111" text-anchor="start" font-weight="normal" >Calibration of radiomic signature</text>
<line x1="469.5" y1="463.1" x2="469.5" y2="464.9" stroke="#777" stroke-width="0.6"/>
<text x="469.5" y="468.9" font-family="Liberation Sans" font-size="4.0" fill="#555555" text-anchor="middle" font-weight="normal"  transform="rotate(0.1 469.5 468.9)" stroke="#555555" stroke-width="0.12">0.0</text>
<line x1="467.7" y1="462.9" x2="469.5" y2="462.9" stroke="#777" stroke-width="0.6"/>
<text x="467" y="464.2" font-family="Liberation Sans" font-size="4.0" fill="#555555" text-anchor="end" font-weight="normal"  transform="rotate(0.1 467 464.2)" stroke="#555555" stroke-width="0.12">0.0</text>
<line x1="509.7" y1="463.1" x2="509.7" y2="464.9" stroke="#777" stroke-width="0.6"/>
<text x="509.7" y="468.9" font-family="Liberation Sans" font-size="4.0" fill="#555555" text-anchor="middle" font-weight="normal"  transform="rotate(0.1 509.7 468.9)" stroke="#555555" stroke-width="0.12">0.2</text>
<line x1="467.7" y1="425" x2="469.5" y2="425" stroke="#777" stroke-width="0.6"/>
<text x="467" y="426.3" font-family="Liberation Sans" font-size="4.0" fill="#555555" text-anchor="end" font-weight="normal"  transform="rotate(0.1 467 426.3)" stroke="#555555" stroke-width="0.12">0.2</text>
<line x1="550" y1="463.1" x2="550" y2="464.9" stroke="#777" stroke-width="0.6"/>
<text x="550" y="468.9" font-family="Liberation Sans" font-size="4.0" fill="#555555" text-anchor="middle" font-weight="normal"  transform="rotate(0.1 550 468.9)" stroke="#555555" stroke-width="0.12">0.4</text>
<line x1="467.7" y1="387" x2="469.5" y2="387" stroke="#777" stroke-width="0.6"/>
<text x="467" y="388.4" font-family="Liberation Sans" font-size="4.0" fill="#555555" text-anchor="end" font-weight="normal"  transform="rotate(0.1 467 388.4)" stroke="#555555" stroke-width="0.12">0.4</text>
<line x1="590.2" y1="463.1" x2="590.2" y2="464.9" stroke="#777" stroke-width="0.6"/>
<text x="590.2" y="468.9" font-family="Liberation Sans" font-size="4.0" fill="#555555" text-anchor="middle" font-weight="normal"  transform="rotate(0.1 590.2 468.9)" stroke="#555555" stroke-width="0.12">0.6</text>
<line x1="467.7" y1="349.1" x2="469.5" y2="349.1" stroke="#777" stroke-width="0.6"/>
<text x="467" y="350.4" font-family="Liberation Sans" font-size="4.0" fill="#555555" text-anchor="end" font-weight="normal"  transform="rotate(0.1 467 350.4)" stroke="#555555" stroke-width="0.12">0.6</text>
<line x1="630.5" y1="463.1" x2="630.5" y2="464.9" stroke="#777" stroke-width="0.6"/>
<text x="630.5" y="468.9" font-family="Liberation Sans" font-size="4.0" fill="#555555" text-anchor="middle" font-weight="normal"  transform="rotate(0.1 630.5 468.9)" stroke="#555555" stroke-width="0.12">0.8</text>
<line x1="467.7" y1="311.1" x2="469.5" y2="311.1" stroke="#777" stroke-width="0.6"/>
<text x="467" y="312.5" font-family="Liberation Sans" font-size="4.0" fill="#555555" text-anchor="end" font-weight="normal"  transform="rotate(0.1 467 312.5)" stroke="#555555" stroke-width="0.12">0.8</text>
<line x1="670.7" y1="463.1" x2="670.7" y2="464.9" stroke="#777" stroke-width="0.6"/>
<text x="670.7" y="468.9" font-family="Liberation Sans" font-size="4.0" fill="#555555" text-anchor="middle" font-weight="normal"  transform="rotate(0.1 670.7 468.9)" stroke="#555555" stroke-width="0.12">1.0</text>
<line x1="467.7" y1="273.2" x2="469.5" y2="273.2" stroke="#777" stroke-width="0.6"/>
<text x="467" y="274.6" font-family="Liberation Sans" font-size="4.0" fill="#555555" text-anchor="end" font-weight="normal"  transform="rotate(0.1 467 274.6)" stroke="#555555" stroke-width="0.12">1.0</text>
<line x1="469.5" y1="462.9" x2="670.7" y2="273.2" stroke="#c8c8c8" stroke-width="0.6"/>
<polyline points="494.7,411.3 513.8,399.2 569.6,375.4 590.4,359.9 645,339.6 652.4,319.6 650.9,302 660.9,288.5" fill="none" stroke="#f39a1e" stroke-width="1.0"/>
<circle cx="494.7" cy="411.3" r="1.3" fill="#f39a1e"/>
<circle cx="513.8" cy="399.2" r="1.3" fill="#f39a1e"/>
<circle cx="569.6" cy="375.4" r="1.3" fill="#f39a1e"/>
<circle cx="590.4" cy="359.9" r="1.3" fill="#f39a1e"/>
<circle cx="645" cy="339.6" r="1.3" fill="#f39a1e"/>
<circle cx="652.4" cy="319.6" r="1.3" fill="#f39a1e"/>
<circle cx="650.9" cy="302" r="1.3" fill="#f39a1e"/>
<circle cx="660.9" cy="288.5" r="1.3" fill="#f39a1e"/>
<polyline points="511.7,410.7 508.8,399.5 540.8,375.4 571.6,359.9 629.8,339.6 634.8,320.5 636.5,303.5 655.3,289.1" fill="none" stroke="#25258f" stroke-width="1.0"/>
<circle cx="511.7" cy="410.7" r="1.3" fill="#25258f"/>
<circle cx="508.8" cy="399.5" r="1.3" fill="#25258f"/>
<circle cx="540.8" cy="375.4" r="1.3" fill="#25258f"/>
<circle cx="571.6" cy="359.9" r="1.3" fill="#25258f"/>
<circle cx="629.8" cy="339.6" r="1.3" fill="#25258f"/>
<circle cx="634.8" cy="320.5" r="1.3" fill="#25258f"/>
<circle cx="636.5" cy="303.5" r="1.3" fill="#25258f"/>
<circle cx="655.3" cy="289.1" r="1.3" fill="#25258f"/>
<rect x="469.5" y="264.2" width="201.2" height="198.9" fill="none" stroke="#a8a8a8" stroke-width="1.15"/>
<text x="569.4" y="474" font-family="Liberation Sans" font-size="6.15" fill="#3a3a3a" text-anchor="middle" font-weight="normal" >Model predict probability</text>
<text x="459.4" y="363.7" font-family="Liberation Sans" font-size="6.05" fill="#3a3a3a" text-anchor="middle" font-weight="normal" transform="rotate(-90 459.4 363.7)">Actual pCR rate</text>
<rect x="609.3" y="444" width="59" height="17" fill="#fff" fill-opacity="0.85" stroke="#e0e0e0" stroke-width="0.5"/>
<line x1="611.1" y1="447.3" x2="618.7" y2="447.3" stroke="#f39a1e" stroke-width="1"/>
<circle cx="614.9" cy="447.3" r="1.2" fill="#f39a1e"/>
<text x="621.6" y="448.7" font-family="Liberation Sans" font-size="4.1" fill="#2e2e2e" text-anchor="start" font-weight="normal"  transform="rotate(0.1 621.6 448.7)" stroke="#2e2e2e" stroke-width="0.12">Training cohort</text>
<line x1="611.1" y1="452.4" x2="618.7" y2="452.4" stroke="#25258f" stroke-width="1"/>
<circle cx="614.9" cy="452.4" r="1.2" fill="#25258f"/>
<text x="621.6" y="453.8" font-family="Liberation Sans" font-size="4.1" fill="#2e2e2e" text-anchor="start" font-weight="normal"  transform="rotate(0.1 621.6 453.8)" stroke="#2e2e2e" stroke-width="0.12">Internal validation cohort</text>
<line x1="611.1" y1="457.8" x2="618.7" y2="457.8" stroke="#c8c8c8" stroke-width="1"/>
<text x="621.6" y="459.2" font-family="Liberation Sans" font-size="4.1" fill="#2e2e2e" text-anchor="start" font-weight="normal"  transform="rotate(0.1 621.6 459.2)" stroke="#2e2e2e" stroke-width="0.12">Perfect prediction</text>
</svg></body></html>
